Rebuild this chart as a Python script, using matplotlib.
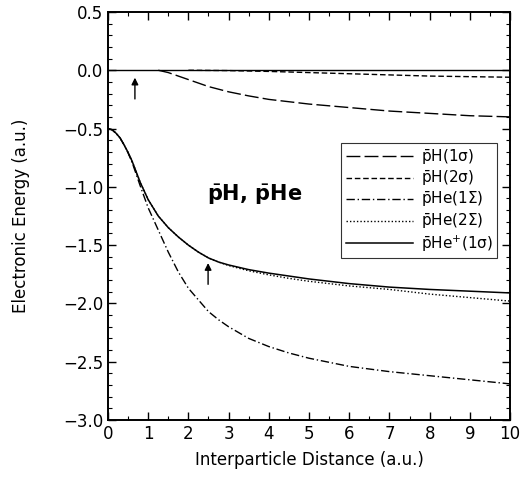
import matplotlib

matplotlib.use("Agg")

import matplotlib.pyplot as plt
from matplotlib.ticker import MultipleLocator

# pH(1 sigma), long dashes
x_ph1 = [1.25, 1.5, 1.75, 2.0, 2.5, 3.0, 3.5, 4.0, 5.0, 6.0, 7.0, 8.0, 9.0, 10.0]
y_ph1 = [0.0, -0.02, -0.05, -0.08, -0.14, -0.185, -0.22, -0.25, -0.29, -0.32, -0.35,
         -0.37, -0.39, -0.40]

# pH(2 sigma), short dashes
x_ph2 = [2.0, 3.0, 4.0, 5.0, 6.0, 7.0, 8.0, 9.0, 10.0]
y_ph2 = [0.0, -0.003, -0.01, -0.02, -0.03, -0.04, -0.05, -0.055, -0.06]

# pHe(1 Sigma), dash-dot
x_phe1 = [0.0, 0.1, 0.2, 0.3, 0.4, 0.5, 0.6, 0.8, 1.0, 1.25, 1.5, 1.75, 2.0, 2.25,
          2.5, 2.75, 3.0, 3.5, 4.0, 4.5, 5.0, 6.0, 7.0, 8.0, 9.0, 10.0]
y_phe1 = [-0.50, -0.51, -0.54, -0.58, -0.64, -0.71, -0.79, -0.99, -1.18, -1.37, -1.56,
          -1.73, -1.87, -1.97, -2.07, -2.14, -2.20, -2.30, -2.37, -2.425, -2.47,
          -2.54, -2.585, -2.62, -2.655, -2.69]

# pHe(2 Sigma), dotted
x_phe2 = [0.0, 0.1, 0.2, 0.3, 0.4, 0.5, 0.6, 0.8, 1.0, 1.25, 1.5, 1.75, 2.0, 2.25,
          2.5, 2.75, 3.0, 3.5, 4.0, 4.5, 5.0, 6.0, 7.0, 8.0, 9.0, 10.0]
y_phe2 = [-0.50, -0.51, -0.54, -0.58, -0.64, -0.705, -0.78, -0.96, -1.11, -1.25,
          -1.35, -1.43, -1.50, -1.56, -1.61, -1.645, -1.675, -1.72, -1.755, -1.785,
          -1.81, -1.85, -1.88, -1.92, -1.95, -1.98]

# pHe+(1 sigma), solid
x_phep = [0.0, 0.1, 0.2, 0.3, 0.4, 0.5, 0.6, 0.8, 1.0, 1.25, 1.5, 1.75, 2.0, 2.25,
          2.5, 2.75, 3.0, 3.5, 4.0, 4.5, 5.0, 6.0, 7.0, 8.0, 9.0, 10.0]
y_phep = [-0.50, -0.51, -0.54, -0.58, -0.64, -0.705, -0.78, -0.96, -1.11, -1.25,
          -1.35, -1.43, -1.50, -1.56, -1.61, -1.645, -1.67, -1.71, -1.74, -1.765,
          -1.79, -1.83, -1.86, -1.88, -1.895, -1.91]

labels = [r"$\bar{\mathrm{p}}$H(1σ)",
          r"$\bar{\mathrm{p}}$H(2σ)",
          r"$\bar{\mathrm{p}}$He(1Σ)",
          r"$\bar{\mathrm{p}}$He(2Σ)",
          r"$\bar{\mathrm{p}}\mathrm{He}^{+}$(1σ)"]

# arrows: (x, tail y, head y)
arrows = [(0.67, -0.27, -0.04), (2.49, -1.86, -1.63)]

plt.rcParams["mathtext.fontset"] = "dejavusans"
plt.rcParams["font.family"] = "DejaVu Sans"

fig = plt.figure(figsize=(5.28, 4.78), dpi=100)
ax = fig.add_axes([0.2045, 0.1213, 0.7615, 0.8537])

ax.axhline(0.0, color="black", lw=1.0)
ax.plot(x_ph1, y_ph1, color="black", lw=1.0, ls=(0, (10, 3)), label=labels[0])
ax.plot(x_ph2, y_ph2, color="black", lw=1.0, ls=(0, (4, 2)), label=labels[1])
ax.plot(x_phe1, y_phe1, color="black", lw=1.0, ls=(0, (6, 2, 1, 2)), label=labels[2])
ax.plot(x_phe2, y_phe2, color="black", lw=1.0, ls=(0, (1, 1.5)), label=labels[3])
ax.plot(x_phep, y_phep, color="black", lw=1.1, ls="-", label=labels[4])

for xa, y0, y1 in arrows:
    ax.annotate("", xy=(xa, y1), xytext=(xa, y0),
                arrowprops=dict(arrowstyle="-|>", color="black", lw=1.0,
                                mutation_scale=10))

ax.text(3.65, -1.07, r"$\bar{\mathbf{p}}$H, $\bar{\mathbf{p}}$He", fontsize=15,
        fontweight="bold", ha="center", va="center")

ax.set_xlim(0, 10)
ax.set_ylim(-3.0, 0.5)
ax.xaxis.set_major_locator(MultipleLocator(1))
ax.xaxis.set_minor_locator(MultipleLocator(0.5))
ax.yaxis.set_major_locator(MultipleLocator(0.5))
ax.yaxis.set_minor_locator(MultipleLocator(0.1))
ax.tick_params(which="both", direction="in", top=True, right=True, labelsize=12)
ax.tick_params(which="major", length=6, width=1.0)
ax.tick_params(which="minor", length=3, width=0.8)
ax.set_yticklabels([f"{v:.1f}".replace("-", "\u2212") for v in ax.get_yticks()])
for s in ax.spines.values():
    s.set_linewidth(1.4)

ax.set_xlabel("Interparticle Distance (a.u.)", fontsize=12, labelpad=6)
ax.set_ylabel("Electronic Energy (a.u.)", fontsize=12, labelpad=24)

leg = ax.legend(loc="upper left", bbox_to_anchor=(0.58, 0.679), fontsize=11,
                frameon=True, fancybox=False, edgecolor="black", handlelength=4.4,
                handletextpad=0.5, labelspacing=0.15, borderpad=0.3,
                borderaxespad=0.0)
leg.get_frame().set_linewidth(0.8)

fig.savefig("out.png", dpi=100)
